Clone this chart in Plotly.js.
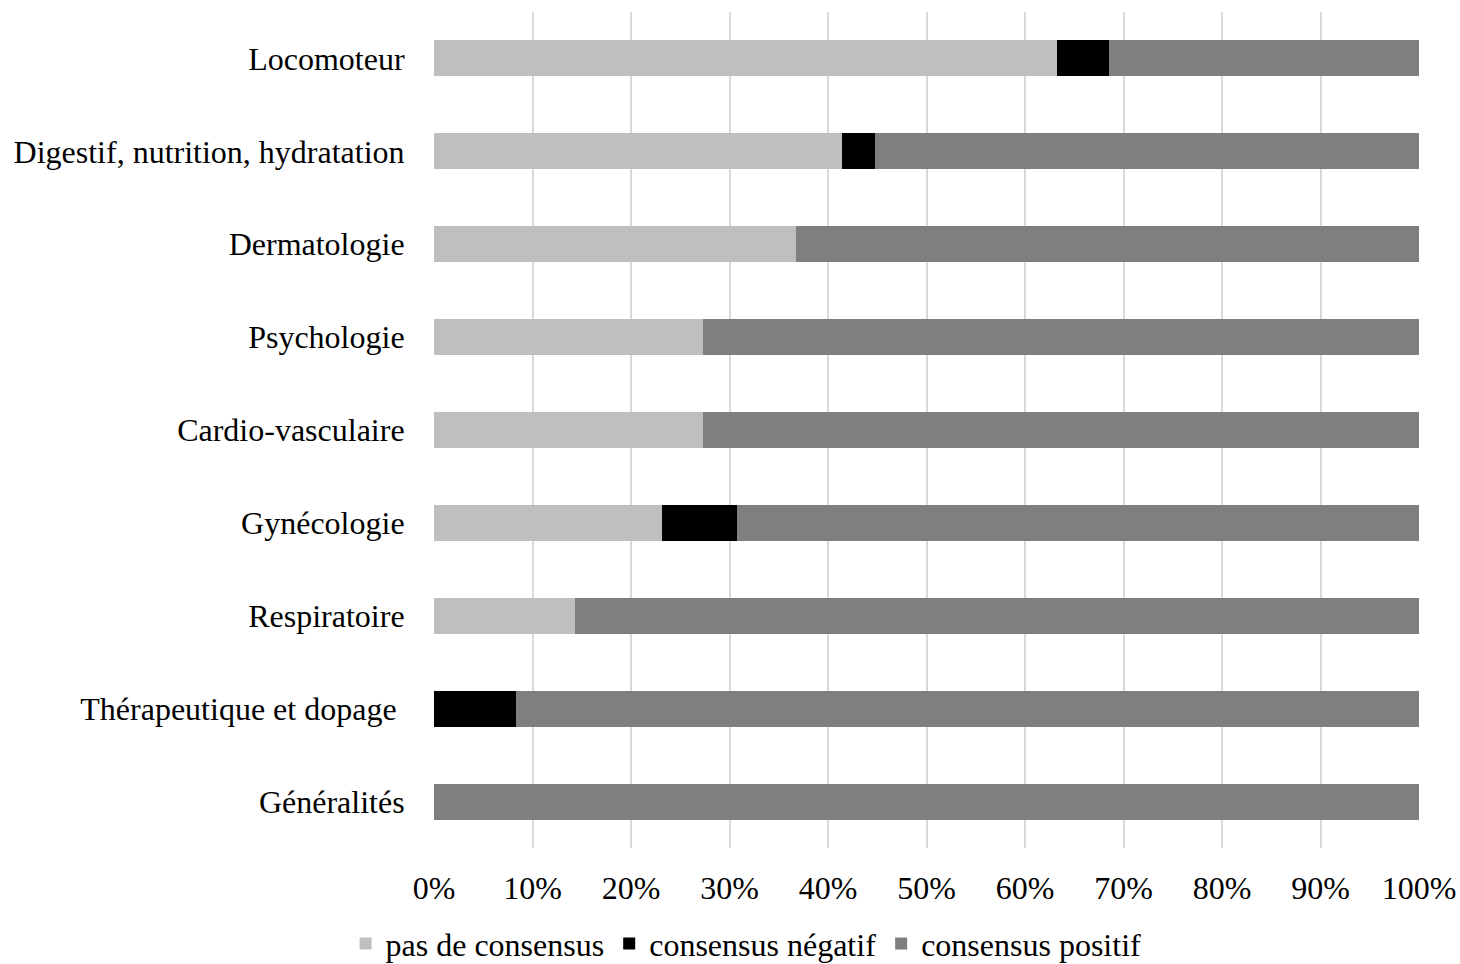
<!DOCTYPE html>
<html>
<head>
<meta charset="utf-8">
<script src="https://cdn.plot.ly/plotly-3.0.1.min.js"></script>
<style>body{margin:0;background:#fff;}#chart{width:1460px;height:964px;}</style>
</head>
<body>
<div id="chart"></div>
<script>
const categories = ["Locomoteur", "Digestif, nutrition, hydratation", "Dermatologie", "Psychologie", "Cardio-vasculaire", "Gynécologie", "Respiratoire", "Thérapeutique et dopage ", "Généralités"];
const pasDeConsensus = [63.2, 41.4, 36.8, 27.3, 27.3, 23.1, 14.3, 0, 0];
const consensusNegatif = [5.3, 3.4, 0, 0, 0, 7.7, 0, 8.3, 0];
const consensusPositif = [31.5, 55.2, 63.2, 72.7, 72.7, 69.2, 85.7, 91.7, 100];
const xTickVals = [0, 10, 20, 30, 40, 50, 60, 70, 80, 90, 100];
const xTickText = ["0%", "10%", "20%", "30%", "40%", "50%", "60%", "70%", "80%", "90%", "100%"];

const font = {family: "Liberation Serif, Times New Roman, serif", size: 32, color: "#000"};
function tr(name, vals, color) {
  return {type: "bar", orientation: "h", name: name, y: categories, x: vals,
    marker: {color: color, line: {width: 0}}, hoverinfo: "x+name"};
}
const data = [
  tr("pas de consensus", pasDeConsensus, "#bfbfbf"),
  tr("consensus négatif", consensusNegatif, "#000000"),
  tr("consensus positif", consensusPositif, "#7f7f7f")
];
const layout = {
  width: 1460, height: 964,
  margin: {l: 434, r: 41, t: 12, b: 116},
  barmode: "stack", bargap: 0.613,
  paper_bgcolor: "#fff", plot_bgcolor: "#fff",
  font: font,
  showlegend: true,
  legend: {orientation: "h", xref: "container", yref: "container", x: 0.511, xanchor: "center", y: 0.021, yanchor: "middle", font: font, itemwidth: 30, traceorder: "normal", tracegroupgap: 0},
  xaxis: {range: [0, 100], tickvals: xTickVals, ticktext: xTickText, showgrid: true, gridcolor: "#d9d9d9", gridwidth: 2, zeroline: false, showline: false, ticks: "outside", ticklen: 12, tickcolor: "rgba(0,0,0,0)", tickfont: font, fixedrange: true},
  yaxis: {type: "category", autorange: "reversed", showgrid: false, zeroline: false, showline: false, ticks: "outside", ticklen: 22, tickcolor: "rgba(0,0,0,0)", tickfont: font, fixedrange: true}
};
Plotly.newPlot("chart", data, layout, {displayModeBar: false, staticPlot: true});
</script>
</body>
</html>
